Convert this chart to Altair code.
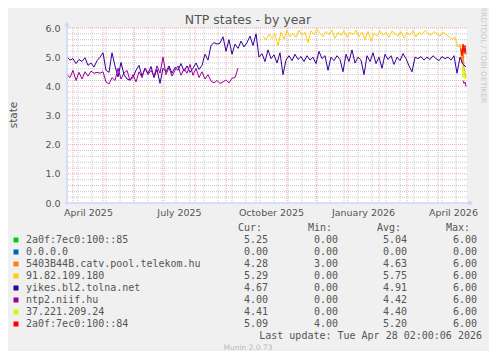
import altair as alt
import pandas as pd

BASE = pd.Timestamp("2025-03-26")

# ---- series values ----
# yikes.bl2.tolna.net : every 3 days from day 0
blue_vals = [
    5.00, 4.90, 4.95, 4.78, 4.92, 4.85, 4.98, 4.72, 4.80, 4.66,
    4.88, 5.00, 5.15, 4.55, 4.48, 5.15, 4.70, 4.32, 4.82, 4.40,
    4.25, 4.22, 4.30, 4.55, 4.72, 4.35, 4.62, 4.45, 4.68, 4.30,
    4.58, 4.10, 4.62, 4.50, 4.70, 4.45, 4.65, 4.55, 4.78, 4.52,
    4.70, 4.48, 4.62, 4.80, 4.58, 4.72, 5.10, 4.90, 5.40, 5.50,
    5.45, 5.48, 5.70, 5.20, 5.60, 5.10, 5.45, 5.30, 5.55, 5.35,
    5.50, 5.72, 5.40, 5.80, 5.00, 5.12, 4.85, 5.25, 4.95, 5.08,
    4.80, 5.15, 4.40, 4.90, 5.05, 4.88, 5.10, 4.92, 5.02, 4.85,
    5.05, 4.90, 5.00, 4.78, 5.20, 4.95, 5.05, 4.55, 5.00, 4.88,
    5.05, 4.92, 4.50, 5.10, 4.85, 5.25, 4.80, 5.00, 4.90, 4.40,
    5.05, 4.85, 5.15, 4.78, 5.00, 4.62, 5.10, 4.92, 5.05, 4.75,
    5.00, 4.88, 5.12, 4.95, 4.70, 4.50, 5.00, 4.95, 5.02, 4.90,
    5.00, 4.92, 5.05, 4.95, 4.88, 5.02, 4.95, 5.00, 4.90, 5.05,
    4.45, 5.00, 4.75, 4.67,
]
# ntp2.niif.hu : every 3 days from day 0, then a few days at the end
purple_vals = [
    4.40, 4.30, 4.55, 4.20, 4.48, 4.25, 4.50, 4.35, 4.52, 4.45,
    4.48, 4.45, 4.50, 4.15, 4.08, 4.30, 4.20, 4.62, 4.25, 4.45,
    4.55, 4.20, 4.40, 4.15, 4.50, 4.30, 4.62, 4.40, 4.55, 4.35,
    4.70, 4.45, 5.00, 4.40, 4.65, 4.35, 4.55, 4.70, 4.38, 4.60,
    4.45, 4.75, 4.38, 4.62, 4.30, 4.50, 4.25, 4.40, 4.18, 4.12,
    4.20, 4.10, 4.15, 4.22, 4.12, 4.28, 4.30, 4.62,
]
purple_end_vals = [4.20, 4.10, 4.15, 4.00]          # days 396..399
# 91.82.109.180 : every 3 days from day 196
yellow_vals = [
    5.72, 5.60, 5.78, 5.65, 5.80, 5.40, 5.85, 5.62, 5.90, 5.70,
    5.82, 5.68, 5.92, 5.75, 5.85, 5.50, 5.90, 5.78, 5.95, 5.82,
    5.70, 5.88, 5.78, 5.92, 5.65, 5.85, 5.75, 5.90, 5.68, 5.85,
    5.78, 5.92, 5.70, 5.86, 5.60, 5.88, 5.55, 5.82, 5.72, 5.90,
    5.75, 5.85, 5.68, 5.90, 5.80, 5.72, 5.88, 5.65, 5.82, 5.76,
    5.90, 5.70, 5.85, 5.78, 5.92, 5.82, 5.75, 5.88, 5.80, 5.72,
    5.85, 5.78, 5.70, 5.62, 5.68, 5.35, 5.40, 5.29,
]
orange_vals = [5.45, 5.10, 4.80, 5.40, 4.60, 4.45, 4.28]   # days 393..399
red_vals = [5.30, 5.05, 5.45, 5.15, 5.40, 5.09]            # days 394..399
green_vals = [5.10, 5.30, 5.25]                            # days 397..399
ygreen_vals = [4.75, 4.30, 4.55, 4.25, 4.41]               # days 395..399

# ---- legend table ----
names = ["2a0f:7ec0:100::85", "0.0.0.0", "5403B44B.catv.pool.telekom.hu",
         "91.82.109.180", "yikes.bl2.tolna.net", "ntp2.niif.hu",
         "37.221.209.24", "2a0f:7ec0:100::84"]
colors = ["#00CC00", "#0066B3", "#FF8000", "#FFCC00",
          "#330099", "#990099", "#CCFF00", "#FF0000"]
cur = ["5.25", "0.00", "4.28", "5.29", "4.67", "4.00", "4.41", "5.09"]
mins = ["0.00", "0.00", "3.00", "0.00", "0.00", "0.00", "0.00", "4.00"]
avgs = ["5.04", "0.00", "4.63", "5.75", "4.91", "4.42", "4.40", "5.20"]
maxs = ["6.00", "0.00", "6.00", "6.00", "6.00", "6.00", "6.00", "6.00"]

y_ticks = [0, 1, 2, 3, 4, 5, 6]
x_label_dates = [(2025, 4, 16), (2025, 7, 16), (2025, 10, 16), (2026, 1, 16), (2026, 4, 16)]


def frame(start, step, vals, seg=0):
    days = [start + step * i for i in range(len(vals))]
    return pd.DataFrame({"date": BASE + pd.to_timedelta(days, unit="D"),
                         "v": vals, "seg": seg})


FONT = "DejaVu Sans"
MONO = "DejaVu Sans Mono"
TXT = "#555555"
AXISC = "#CFD6F8"

xscale = alt.Scale(domain=[alt.DateTime(year=2025, month=3, date=26),
                           alt.DateTime(year=2026, month=4, date=30)])
yscale = alt.Scale(domain=[0, 6])
xaxis = alt.Axis(values=[alt.DateTime(year=a, month=b, date=c) for a, b, c in x_label_dates],
                 format="%B %Y", grid=False, ticks=False, domain=False, labelPadding=4,
                 labelFontSize=9.5, labelColor=TXT, labelFont=FONT, title=None,
                 labelFlush=False, labelOverlap=False)
yaxis = alt.Axis(values=y_ticks, format=".1f", grid=False, ticks=False, domain=False,
                 labelPadding=7, labelFontSize=9.5, labelColor=TXT, labelFont=FONT,
                 title=None)


def X(f="date"):
    return alt.X(f"{f}:T", scale=xscale, axis=xaxis)


def Y(f="v"):
    return alt.Y(f"{f}:Q", scale=yscale, axis=yaxis)


# grid
minor_y = [round(i * 0.2, 1) for i in range(1, 30) if i % 5 != 0]
major_y = [1, 2, 3, 4, 5, 6]
month_starts = pd.date_range("2025-04-01", "2026-04-01", freq="MS")
biweekly = pd.date_range("2025-04-06", "2026-04-28", freq="14D")

g_minor_h = alt.Chart(pd.DataFrame({"v": minor_y})).mark_rule(
    color="#C8C8C8", strokeWidth=1, strokeDash=[1, 1]).encode(y=Y())
g_minor_v = alt.Chart(pd.DataFrame({"date": biweekly})).mark_rule(
    color="#C8C8C8", strokeWidth=1, strokeDash=[1, 1]).encode(x=X())
g_major_h = alt.Chart(pd.DataFrame({"v": major_y})).mark_rule(
    color="#F0ABAB", strokeWidth=1, strokeDash=[1, 1]).encode(y=Y())
g_major_v = alt.Chart(pd.DataFrame({"date": month_starts})).mark_rule(
    color="#F0ABAB", strokeWidth=1, strokeDash=[1, 1]).encode(x=X())


def line(df, color):
    return alt.Chart(df).mark_line(color=color, strokeWidth=1, clip=True).encode(
        x=X(), y=Y(), detail="seg:N")


purple_df = pd.concat([frame(0, 3, purple_vals, 0), frame(396, 1, purple_end_vals, 1)])
lines = [
    line(frame(397, 1, green_vals), "#00CC00"),
    line(frame(393, 1, orange_vals), "#FF8000"),
    line(frame(196, 3, yellow_vals), "#FFCC00"),
    line(frame(0, 3, blue_vals), "#330099"),
    line(purple_df, "#990099"),
    line(frame(395, 1, ygreen_vals), "#CCFF00"),
    line(frame(394, 1, red_vals), "#FF0000"),
]

one = pd.DataFrame({"k": [0]})
x_axis_line = alt.Chart(one).mark_rule(color=AXISC, strokeWidth=1.5).encode(
    x=alt.value(-2), x2=alt.value(402), y=alt.value(175))
y_axis_line = alt.Chart(one).mark_rule(color=AXISC, strokeWidth=1.5).encode(
    x=alt.value(0), y=alt.value(177), y2=alt.value(-3))
arrow_r = alt.Chart(one).mark_point(shape="triangle-right", filled=True, color=AXISC,
                                    size=30, opacity=1).encode(x=alt.value(404), y=alt.value(175))
arrow_u = alt.Chart(one).mark_point(shape="triangle-up", filled=True, color=AXISC,
                                    size=30, opacity=1).encode(x=alt.value(0), y=alt.value(-4))


def label(text, x, y, size, color=TXT, font=FONT, align="center", angle=0, baseline="middle"):
    return alt.Chart(pd.DataFrame({"t": [text]})).mark_text(
        font=font, fontSize=size, color=color, align=align, baseline=baseline,
        angle=angle).encode(x=alt.value(x), y=alt.value(y), text="t:N")


texts = [
    label("NTP states - by year", 181, -8, 12.5),
    label("state", -53, 87, 10.5, angle=270),
    label("RRDTOOL / TOBI OETIKER", 416, 27, 7.5, color="#C8C8C8", angle=90),
    label("Cur:", 195, 200, 10, font=MONO, align="right"),
    label("Min:", 265, 200, 10, font=MONO, align="right"),
    label("Avg:", 334, 200, 10, font=MONO, align="right"),
    label("Max:", 403, 200, 10, font=MONO, align="right"),
    label("Last update: Tue Apr 28 02:00:06 2026", 415, 308, 10, font=MONO, align="right"),
    label("Munin 2.0.73", 181, 320, 7.5, color="#BBBBBB"),
]

leg = pd.DataFrame({"row": list(range(len(names))), "name": names, "color": colors,
                    "cur": cur, "min": mins, "avg": avgs, "max": maxs})
legbase = alt.Chart(leg).transform_calculate(ypix="212 + 12 * datum.row")
ypix = alt.Y("ypix:Q", scale=None, axis=None)
leg_sq = legbase.mark_square(size=25, opacity=1).encode(
    x=alt.value(-51), y=ypix, color=alt.Color("color:N", scale=None, legend=None))
leg_name = legbase.mark_text(font=MONO, fontSize=10, color=TXT, align="left",
                             baseline="middle").encode(x=alt.value(-41), y=ypix, text="name:N")
leg_cols = []
for fld, xx in [("cur", 201), ("min", 271), ("avg", 340), ("max", 410)]:
    leg_cols.append(legbase.mark_text(font=MONO, fontSize=10, color=TXT, align="right",
                                      baseline="middle").encode(x=alt.value(xx), y=ypix,
                                                                text=f"{fld}:N"))

chart = alt.layer(
    g_minor_h, g_minor_v, g_major_h, g_major_v, *lines,
    x_axis_line, y_axis_line, arrow_r, arrow_u, *texts, leg_sq, leg_name, *leg_cols
).properties(
    width=400, height=175,
    autosize=alt.AutoSizeParams(type="none"),
    padding={"left": 59, "top": 20, "right": 22, "bottom": 148},
    background="#F0F0F0",
).configure_view(fill="white", stroke=None)

chart.save("out.html", embed_options={"renderer": "svg", "actions": False})
